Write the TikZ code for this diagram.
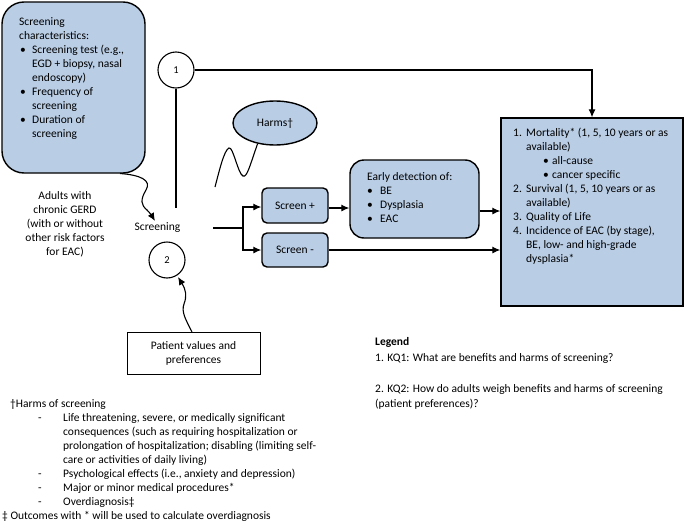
\documentclass[tikz,border=0pt]{standalone}
\usepackage{fontspec}
\setmainfont{Carlito}
\usetikzlibrary{arrows.meta,shapes.geometric}
\definecolor{boxblue}{RGB}{185,205,229}
\begin{document}
\begin{tikzpicture}[x=1pt,y=-1pt,
  txt/.style={font=\fontsize{11.5}{14}\selectfont, inner sep=0pt, align=left},
  ctxt/.style={font=\fontsize{11.5}{14}\selectfont, inner sep=0pt, align=center},
  bluebox/.style={draw=black, fill=boxblue, line width=1.4pt, inner sep=0pt},
  conn/.style={line width=1.1pt},
  arr/.style={conn, -{Latex[length=8pt,width=7pt]}},
  kq/.style={circle, draw, line width=1.1pt, fill=white, minimum size=36pt, inner sep=0pt, font=\fontsize{10.5}{12}\selectfont}
]
\useasboundingbox (0,0) rectangle (685,522);

% boxes (base anchors of multi-line texts sit on their last line)
\node[bluebox, rounded corners=22pt, minimum width=143pt, minimum height=171pt] (sc) at (73.5,87.5) {};
\node[txt, anchor=base west] (sctext) at (19,137.5) {Screening\\characteristics:\\
\hspace*{1pt}\makebox[12pt][l]{\textbullet}Screening test (e.g.,\\
\hspace*{13pt}EGD + biopsy, nasal\\
\hspace*{13pt}endoscopy)\\
\hspace*{1pt}\makebox[12pt][l]{\textbullet}Frequency of\\
\hspace*{13pt}screening\\
\hspace*{1pt}\makebox[12pt][l]{\textbullet}Duration of\\
\hspace*{13pt}screening};

\node[kq] (c1) at (176,70) {1};
\node[kq] (c2) at (167,260) {2};

\node[bluebox, ellipse, minimum width=84pt, minimum height=44pt, font=\fontsize{11.5}{14}\selectfont] (harms) at (275,123) {Harms†};

\node[bluebox, rounded corners=5pt, minimum width=66pt, minimum height=35pt, font=\fontsize{11.5}{14}\selectfont] (sp) at (295,205.5) {Screen +};
\node[bluebox, rounded corners=5pt, minimum width=66pt, minimum height=34pt, font=\fontsize{11.5}{14}\selectfont] (sm) at (295,250) {Screen -};

\node[bluebox, rounded corners=14pt, minimum width=129pt, minimum height=78pt] (ed) at (414.5,199) {};
\node[txt, anchor=base west] (edtext) at (367,222) {Early detection of:\\
\makebox[13pt][l]{\textbullet}BE\\
\makebox[13pt][l]{\textbullet}Dysplasia\\
\makebox[13pt][l]{\textbullet}EAC};

\node[bluebox, minimum width=182pt, minimum height=188pt] (out) at (592,212) {};
\node[txt, anchor=base west] (outtext) at (513,262.5) {\makebox[13pt][l]{1.}Mortality* (1, 5, 10 years or as\\
\hspace*{13pt}available)\\
\hspace*{30pt}\makebox[9pt][l]{\textbullet}all-cause\\
\hspace*{30pt}\makebox[9pt][l]{\textbullet}cancer specific\\
\makebox[13pt][l]{2.}Survival (1, 5, 10 years or as\\
\hspace*{13pt}available)\\
\makebox[13pt][l]{3.}Quality of Life\\
\makebox[13pt][l]{4.}Incidence of EAC (by stage),\\
\hspace*{13pt}BE, low- and high-grade\\
\hspace*{13pt}dysplasia*};

\node[draw, line width=1pt, fill=white, minimum width=133pt, minimum height=42pt, inner sep=0pt] (pv) at (193.5,353) {};
\node[ctxt, anchor=base] (pvtext) at (193.5,363.5) {Patient values and\\preferences};

\node[ctxt, anchor=base] (adults) at (65,255) {Adults with\\chronic GERD\\(with or without\\other risk factors\\for EAC)};
\node[ctxt, anchor=base] (scr) at (157.5,230) {Screening};

% connectors
\coordinate (c1end) at (176,208);
\draw[conn] (c1.south) -- (c1end);
\draw[arr] (c1.east) -| (out.north);

\draw[arr] (120,173.5) .. controls (140,175) and (152,180) .. (146,190)
  .. controls (140,200) and (141,205) .. (147,210) .. controls (150,213) and (152,216) .. (155,221);

\draw[conn] (harms.230) .. controls (250,165) and (247,178) .. (243,176)
  .. controls (238,174) and (233,146) .. (229,148) .. controls (224,150) and (219,172) .. (215,187);

\coordinate (scrout) at (213,228);
\coordinate (br) at (243,228);
\draw[conn] (scrout) -- (br);
\draw[arr] (br) |- ([yshift=-1.5pt]sp.west);
\draw[arr] (br) |- (sm.west);

\draw[arr] ([yshift=-2.5pt]sp.east) -- ([yshift=-2.5pt]sp.east -| ed.west);
\draw[arr] ([yshift=-12pt]ed.east) -- ([yshift=-12pt]ed.east -| out.west);
\draw[arr] (sm.east) -- (sm.east -| out.west);

\draw[arr] (192,332) .. controls (186,320) and (181,312) .. (184,304)
  .. controls (187,296) and (186,290) .. (178,277);

% notes
\node[txt, anchor=base west] (notes) at (10,505) {†Harms of screening\\
\hspace*{28pt}\makebox[25pt][l]{-}Life threatening, severe, or medically significant\\
\hspace*{53pt}consequences (such as requiring hospitalization or\\
\hspace*{53pt}prolongation of hospitalization; disabling (limiting self-\\
\hspace*{53pt}care or activities of daily living)\\
\hspace*{28pt}\makebox[25pt][l]{-}Psychological effects (i.e., anxiety and depression)\\
\hspace*{28pt}\makebox[25pt][l]{-}Major or minor medical procedures*\\
\hspace*{28pt}\makebox[25pt][l]{-}Overdiagnosis‡};
\node[txt, anchor=base west] (foot) at (2,519) {‡ Outcomes with * will be used to calculate overdiagnosis};

\node[txt, anchor=base west, font=\fontsize{11.5}{15.5}\selectfont] (legend) at (375,407.5) {\textbf{Legend}\\
1. KQ1: What are benefits and harms of screening?\\[15.5pt]
2. KQ2: How do adults weigh benefits and harms of screening\\
(patient preferences)?};
\end{tikzpicture}
\end{document}
